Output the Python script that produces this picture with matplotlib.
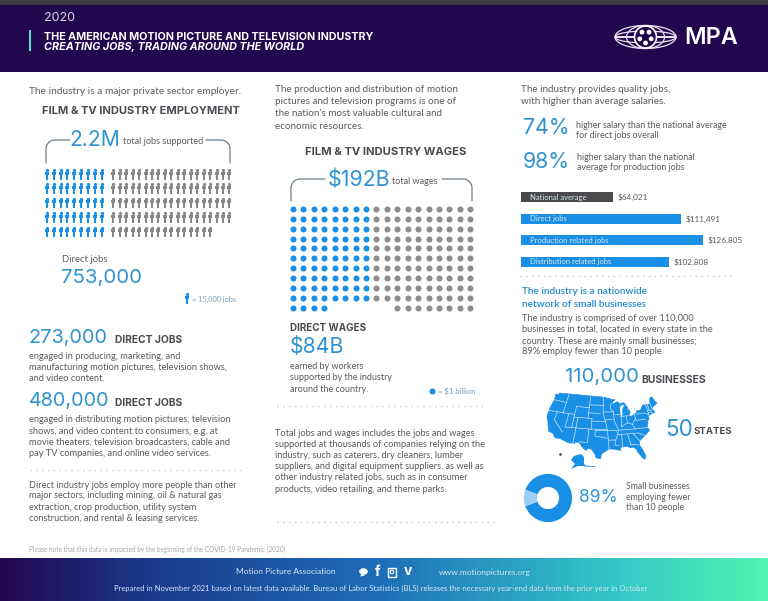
import numpy as np
import matplotlib
matplotlib.use('Agg')
import matplotlib.pyplot as plt
from matplotlib.patches import Rectangle, Ellipse, Circle, Polygon
from matplotlib.path import Path

BLUE = '#1a8fe6'
NUMBLUE = '#2f93d2'
GREY = '#8f8f92'
TEXT = '#5a5b60'
HEAD = '#4a4b50'

# employment pictogram, 1 icon = 15,000 jobs
direct_icons = 45
other_icons = 92
# wages pictogram, 1 dot = $1 billion
direct_dots = 84
other_dots = 108

salary_labels = ['National average', 'Direct jobs', 'Production related jobs', 'Distribution related jobs']
salary_values = [64021, 111491, 126805, 102808]
salary_colors = ['#4a4a4c', BLUE, BLUE, BLUE]

small_business_share = [89, 11]

# rough lower 48 outline, lon/lat
us_outline = [(-124.7,48.4),(-123,48.3),(-122.8,49),(-95.2,49),(-94.6,48.7),(-93,48.6),(-91.5,48.1),(-89.6,48),
    (-92,46.7),(-90.5,46.6),(-88.4,47.3),(-87.5,46.5),(-85,46.7),(-84.5,46.4),(-84,46),(-85.5,46),(-87,45.7),
    (-87.6,45.1),(-88,44.5),(-87.4,44.9),(-87.7,43.5),(-87.8,42.3),(-87.5,41.7),(-86.8,41.8),(-86.3,42.5),
    (-86.3,44),(-85.5,45),(-84.8,45.8),(-83.5,45.3),(-83.3,44.3),(-83.9,43.7),(-82.9,44),(-82.4,43),(-83.1,42.1),
    (-83.4,41.7),(-82.5,41.4),(-81,41.9),(-79,42.7),(-79,43.3),(-76.8,43.3),(-76.2,44),(-75,45),(-71.5,45),
    (-70.8,45.4),(-70,46.7),(-69.2,47.4),(-68.3,47.3),(-67.8,45.7),(-67,44.9),(-69,44),(-70.2,43.6),(-70.7,42.7),
    (-70,41.7),(-71.5,41.4),(-74,40.7),(-74,39.7),(-75,38.9),(-75.5,39.5),(-75.1,38.4),(-76,37),(-75.6,35.3),
    (-76.7,34.7),(-78,33.9),(-79.3,33.1),(-81,32),(-81.4,30.5),(-80.5,28.3),(-80,26.5),(-80.4,25.2),(-81.2,25.2),
    (-82,26.8),(-82.8,28),(-83,29),(-84.2,30),(-85.3,29.7),(-86.5,30.4),(-88,30.3),(-89.5,30.2),(-89.2,29.1),
    (-90.5,29.2),(-92,29.6),(-94,29.7),(-95.3,28.9),(-97,27.9),(-97.3,26),(-99.1,26.4),(-99.5,27.5),(-101,29.5),
    (-102.5,29.8),(-103.2,29),(-104.5,29.7),(-106.5,31.8),(-108.2,31.8),(-108.2,31.3),(-111,31.3),(-114.8,32.5),
    (-117.1,32.5),(-118.4,34),(-120.6,34.5),(-121.9,36.6),(-122.5,37.8),(-123.8,39.3),(-124.3,40.4),(-124.2,42),
    (-124.5,43),(-124,46.2)]
state_lines = [[(-124.2,42),(-111,42)],[(-117,49),(-117,42)],[(-124,46.2),(-117,46)],[(-120,42),(-120,39),(-114.6,35)],
    [(-114,42),(-114,37)],[(-114,37),(-102,37)],[(-109,41),(-109,31.3)],[(-103,37),(-103,32),(-106.5,32)],
    [(-111,45),(-111,37)],[(-111,41),(-102,41)],[(-111,45),(-104,45)],[(-104,49),(-104,41)],[(-102,41),(-102,37)],
    [(-104,46),(-96.5,46)],[(-104,43),(-98,43)],[(-102,40),(-95.3,40)],[(-102,37),(-94.6,37)],[(-100,36.5),(-90,36.5)],
    [(-100,36.5),(-100,34.5),(-94.5,33.7)],[(-94.5,36.5),(-94.1,33),(-94,29.7)],[(-96.5,49),(-96.5,43),(-95.3,40),(-94.6,37)],
    [(-96.5,43.5),(-91.2,43.5)],[(-95.7,40.6),(-91.5,40.6)],[(-94.1,33),(-91,33)],
    [(-92,46.7),(-92.8,45),(-91.2,43.5),(-91,40),(-89.5,37),(-90,35),(-91,33),(-91.5,31),(-89.7,31)],
    [(-90.5,42.5),(-87.8,42.5)],[(-87.5,41.7),(-87.5,39),(-88,37.8)],[(-84.8,41.7),(-84.8,39.1)],[(-87.5,41.7),(-83.4,41.7)],
    [(-89.5,36.6),(-81.7,36.6),(-75.9,36.6)],[(-90,35),(-84.3,35),(-81,35),(-78.5,33.9)],[(-88.2,35),(-88.4,30.3)],
    [(-85.6,35),(-85,31),(-85,30.8)],[(-85,31),(-81.8,30.6)],[(-83.1,35),(-81,32)],[(-88,37.8),(-84.8,39.1),(-82.6,38.4),(-81.7,36.6)],
    [(-80.5,42),(-80.5,39.7)],[(-80.5,39.7),(-75.7,39.7)],[(-82.6,38.4),(-80.5,40.6)],[(-79.5,42),(-75,42),(-73.5,41)],
    [(-73.4,45),(-73.4,41.2)],[(-73.4,42.7),(-70.8,42.7)],[(-72.5,45),(-72.5,42.7)],[(-71,45.3),(-70.8,43.1)],[(-73.4,42),(-71.8,42),(-71.8,41.4)]]

fig = plt.figure(figsize=(7.68, 6.01), dpi=100)
ax = fig.add_axes([0, 0, 1, 1])
ax.set_xlim(0, 768)
ax.set_ylim(601, 0)
ax.axis('off')


def t(x, y, s, size=6.7, color=TEXT, weight='normal', style='normal', ha='left', family='Lato', **kw):
    return ax.text(x, y, s, fontsize=size, color=color, fontweight=weight, fontstyle=style,
                   ha=ha, va='center', family=family, **kw)


def big(x, y, s, size):
    return t(x, y, s, size=size, color=NUMBLUE, family='Inter', weight='normal')


def lines(x, ys, strs, **kw):
    for y, s in zip(ys, strs):
        t(x, y, s, **kw)


def inset(x0, y0, x1, y1):
    a = fig.add_axes([x0 / 768, 1 - y1 / 601, (x1 - x0) / 768, (y1 - y0) / 601])
    return a


def bracket(x0, x1, xa, xb, ytop, ybot):
    # curly-ish bracket either side of the big number
    r = 9
    for xs, xe, sgn in ((x0, xa, 1), (x1, xb, -1)):
        xv = np.r_[xs, xs, xs + sgn * r * (1 - np.cos(np.linspace(0, np.pi / 2, 12))), xe]
        yv = np.r_[ybot, ytop + r, ytop + r - r * np.sin(np.linspace(0, np.pi / 2, 12)), ytop]
        ax.plot(xv, yv, color='#6f7f88', lw=0.9, solid_capstyle='round')


def dotted(x0, x1, y):
    ax.plot([x0, x1], [y, y], color='#c9c9cc', lw=1.0, ls=(0, (1, 3.2)))


def people(x, y, color, s=62):
    # body and head are two scatters, markers are in display space so y is up
    ax.scatter(x, y, s=s, marker=person, c=color, lw=0)
    ax.scatter(x, np.asarray(y) - 4.6, s=5.5, marker='o', c=color, lw=0)


# header
ax.add_patch(Rectangle((0, 0), 768, 72, color='#23074e', lw=0))
ax.add_patch(Rectangle((0, 0), 768, 5, color='#3c3c40', lw=0))
ax.add_patch(Rectangle((29, 30), 2.2, 21, color='#58e0c8', lw=0))
t(44, 18, '2020', size=9, color='#d8d4e2', family='Inter')
t(44, 36.5, 'THE AMERICAN MOTION PICTURE AND TELEVISION INDUSTRY', size=7.7, color='white', weight='bold', family='Inter')
t(44, 47.5, 'CREATING JOBS, TRADING AROUND THE WORLD', size=7.75, color='white', weight='bold', style='italic', family='Inter')
for w, h in [(61, 23), (61, 12), (61, 0.1), (38, 23)]:
    ax.add_patch(Ellipse((645.5, 37), w, h, fc='none', ec='#e6e0ee', lw=0.9))
ax.add_patch(Circle((645.5, 37), 11, fc='#23074e', ec='white', lw=1.2))
for a in np.linspace(0, 2 * np.pi, 5, endpoint=False) + np.pi / 2:
    ax.add_patch(Circle((645.5 + 6 * np.cos(a), 37 + 6 * np.sin(a)), 2.4, fc='white', lw=0))
t(684.5, 38.5, 'MPA', size=16.8, color='white', weight='semibold', family='Inter')

# left column
t(29, 91, 'The industry is a major private sector employer.', size=7.3)
t(141, 110.5, 'FILM & TV INDUSTRY EMPLOYMENT', size=8.0, color=HEAD, weight='bold', ha='center', family='Inter')
bracket(46, 230, 70, 206, 140, 163)
big(69, 139.5, '2.2M', 15.2)
t(123, 141, 'total jobs supported', size=6.6)

person = Path([(-0.36, 0.55), (0.36, 0.55), (0.36, -0.05), (0.2, -0.05), (0.2, -1), (-0.2, -1), (-0.2, -0.05), (-0.36, -0.05), (-0.36, 0.55)], closed=True)
blue_r, blue_c = np.divmod(np.arange(direct_icons), 9)
grey_r, grey_c = np.divmod(np.arange(other_icons), 19)
people(46.7 + blue_c * 6.9, 174.5 + blue_r * 14.4, BLUE)
people(113.3 + grey_c * 6.45, 174.5 + grey_r * 14.4, '#87878a')

t(62, 259, 'Direct jobs', size=6.8)
big(61.5, 277.5, '753,000', 14.7)
people([186.5], [298.5], BLUE)
t(192, 299.5, '= 15,000 jobs', size=5.3, color='#7a9cb5')

big(29, 337.5, '273,000', 14.3)
t(115, 340, 'DIRECT JOBS', size=7.4, color=HEAD, weight='bold', family='Inter')
lines(29, [356.7, 367.7, 378.5], ['engaged in producing, marketing, and',
                                  'manufacturing motion pictures, television shows,',
                                  'and video content.'], size=6.7)
big(29, 401, '480,000', 14.3)
t(115, 403, 'DIRECT JOBS', size=7.4, color=HEAD, weight='bold', family='Inter')
lines(29, [420, 431, 442, 453], ['engaged in distributing motion pictures, television',
                                 'shows, and video content to consumers, e.g. at',
                                 'movie theaters, television broadcasters, cable and',
                                 'pay TV companies, and online video services.'], size=6.7)
dotted(30, 245, 470)
lines(29, [485, 496, 507.5, 518.7], ['Direct industry jobs employ more people than other',
                                     'major sectors, including mining, oil & natural gas',
                                     'extraction, crop production, utility system',
                                     'construction, and rental & leasing services.'], size=6.6)
t(29, 549, 'Please note that this data is impacted by the beginning of the COVID-19 Pandemic (2020)', size=4.7, color='#a6a6aa')

# middle column
lines(275, [89, 101.5, 114, 126.5], ['The production and distribution of motion',
                                     'pictures and television programs is one of',
                                     "the nation's most valuable cultural and",
                                     'economic resources.'], size=7.1)
t(386, 152, 'FILM & TV INDUSTRY WAGES', size=8.1, color=HEAD, weight='bold', ha='center', family='Inter')
bracket(291, 472, 325, 442, 179, 201)
big(328, 180, '$192B', 15.4)
t(392, 181, 'total wages', size=6.5)

blue_r, blue_c = np.divmod(np.arange(direct_dots), 8)
ax.scatter(293 + blue_c * 10.43, 209 + blue_r * 9.87, s=19, c=BLUE, lw=0)
grey_r, grey_c = np.divmod(np.arange(other_dots), 10)
# last row of the grey block sits to the right
grey_c[grey_r == 10] += 2
ax.scatter(293 + (grey_c + 8) * 10.43, 209 + grey_r * 9.87, s=19, c='#8d8d90', lw=0)

t(290, 328, 'DIRECT WAGES', size=7.1, color=HEAD, weight='bold', family='Inter')
big(289.5, 347, '$84B', 15.3)
lines(290, [366.7, 377.7, 389], ['earned by workers', 'supported by the industry', 'around the country.'], size=6.5)
ax.scatter([432], [391], s=19, c=BLUE, lw=0)
t(438, 391.5, '= $1 billion', size=5.5, color='#7a9cb5')
dotted(277, 487, 405.5)
lines(275, [434, 444.7, 455.7, 466.7, 477.7, 489], ['Total jobs and wages includes the jobs and wages',
                                                    'supported at thousands of companies relying on the',
                                                    'industry, such as caterers, dry cleaners, lumber',
                                                    'suppliers, and digital equipment suppliers, as well as',
                                                    'other industry related jobs, such as in consumer',
                                                    'products, video retailing, and theme parks.'], size=6.7)
dotted(277, 495, 521.7)

# right column
lines(521, [89, 102], ['The industry provides quality jobs,', 'with higher than average salaries.'], size=7.1)
big(523, 128, '74%', 15.3)
lines(576, [125.5, 136], ['higher salary than the national average', 'for direct jobs overall'], size=6.36)
big(523, 162, '98%', 15.3)
lines(577, [157.5, 168], ['higher salary than the national', 'average for production jobs'], size=6.36)

bar_ax = inset(521, 188, 721, 274)
bar_ax.barh(range(4), salary_values, height=0.46, color=salary_colors, lw=0)
bar_ax.set_xlim(0, 200 / 0.001435)
bar_ax.set_ylim(3.57, -0.43)
bar_ax.axis('off')
for i, (lab, val) in enumerate(zip(salary_labels, salary_values)):
    bar_ax.text(6200, i, lab, color='#d8e6f2', fontsize=5.5, va='center', family='Lato')
    bar_ax.text(val + 3500, i, f'${val:,}', color=TEXT, fontsize=5.9, va='center', family='Lato')
dotted(520, 735, 276)

lines(522, [292, 304.3], ['The industry is a nationwide', 'network of small businesses'], size=7.2, color='#1f8ad0', weight='semibold')
lines(522, [318.3, 329.7, 341, 351.7], ['The industry is comprised of over 110,000',
                                        'businesses in total, located in every state in the',
                                        'country. These are mainly small businesses;',
                                        '89% employ fewer than 10 people.'], size=6.65)
big(565.5, 377, '110,000', 14.6)
t(641, 380, 'BUSINESSES', size=7.5, color=HEAD, weight='bold', family='Inter')
big(665.5, 430, '50', 16.2)
t(694, 431, 'STATES', size=6.9, color=HEAD, weight='bold', family='Inter')


def albers(pts):
    # conic projection squeezed into the pixel box of the map
    lon, lat = np.array(pts, dtype=float).T
    n = 0.6
    rho = (90 - lat) / 60
    th = np.radians(lon + 96) * n
    return rho * np.sin(th), -rho * np.cos(th)


ox, oy = albers(us_outline)
sx = 110 / (ox.max() - ox.min())
sy = 66 / (oy.max() - oy.min())
to_px = lambda px, py: (547 + (px - ox.min()) * sx, 393 + (oy.max() - py) * sy)
mx, my = to_px(ox, oy)
ax.add_patch(Polygon(np.c_[mx, my], closed=True, fc=BLUE, ec=BLUE, lw=0.4, zorder=3))
for seg in state_lines:
    sxs, sys = to_px(*albers(seg))
    ax.plot(sxs, sys, color='white', lw=0.45, zorder=4, alpha=0.85)
# Alaska and Hawaii
ax.add_patch(Polygon([(574, 456), (581, 454), (584, 457), (584, 464), (588, 467), (583, 466), (578, 466), (571, 469), (575, 464), (571, 460)], fc=BLUE, lw=0, zorder=3))
ax.plot([587, 595], [466, 466.5], color=BLUE, lw=0.6)
ax.scatter([560], [453.5], s=4, c='#555', lw=0)

pie_ax = inset(522, 472, 574, 524)
pie_ax.pie(small_business_share, colors=[BLUE, '#9ccff5'], startangle=-160.2, radius=1.0,
           wedgeprops=dict(width=0.54, lw=0))
pie_ax.set_xlim(-1.08, 1.08)
pie_ax.set_ylim(-1.08, 1.08)
big(579, 497, '89%', 12.6)
lines(626.5, [486.5, 497, 507], ['Small businesses', 'employing fewer', 'than 10 people'], size=6.3)

# footer
stops = np.array([[0x23, 0x07, 0x4e], [0x1a, 0x3a, 0x8e], [0x1f, 0x6f, 0xb8], [0x33, 0xc8, 0xc8], [0x50, 0xf5, 0xb0]]) / 255
grad_x = np.linspace(0, 1, 768)
grad = np.stack([np.interp(grad_x, [0, 0.2, 0.5, 0.8, 1], stops[:, i]) for i in range(3)], axis=1)[None, :, :]
ax.imshow(grad, extent=(0, 768, 601, 558), aspect='auto', zorder=0)
ax.set_xlim(0, 768)
ax.set_ylim(601, 0)
t(236, 572, 'Motion Picture Association', size=6.05, color='#d5e6f5')
t(439, 572, 'www.motionpictures.org', size=6.05, color='#d5e6f5')
t(381.5, 588, 'Prepared in November 2021 based on latest data available. Bureau of Labor Statistics (BLS) releases the necessary year-end data from the prior year in October.',
  size=5.47, color='#d5e6f5', ha='center')
# social icons
ax.add_patch(Ellipse((363.5, 571.5), 8.5, 6.5, fc='white', lw=0, zorder=3))
ax.add_patch(Polygon([(358.5, 570), (363, 572), (360, 576.5), (365, 575.5)], fc='white', lw=0, zorder=3))
t(377.5, 571.5, 'f', size=10, color='white', weight='bold', ha='center', family='Inter')
ax.add_patch(Rectangle((388, 567.5), 8, 9, fc='none', ec='white', lw=1, zorder=3))
ax.add_patch(Circle((392, 572), 1.8, fc='none', ec='white', lw=0.8, zorder=3))
t(408, 571, 'v', size=10, color='white', weight='bold', ha='center', family='Inter')

fig.savefig('out.png', dpi=100)
